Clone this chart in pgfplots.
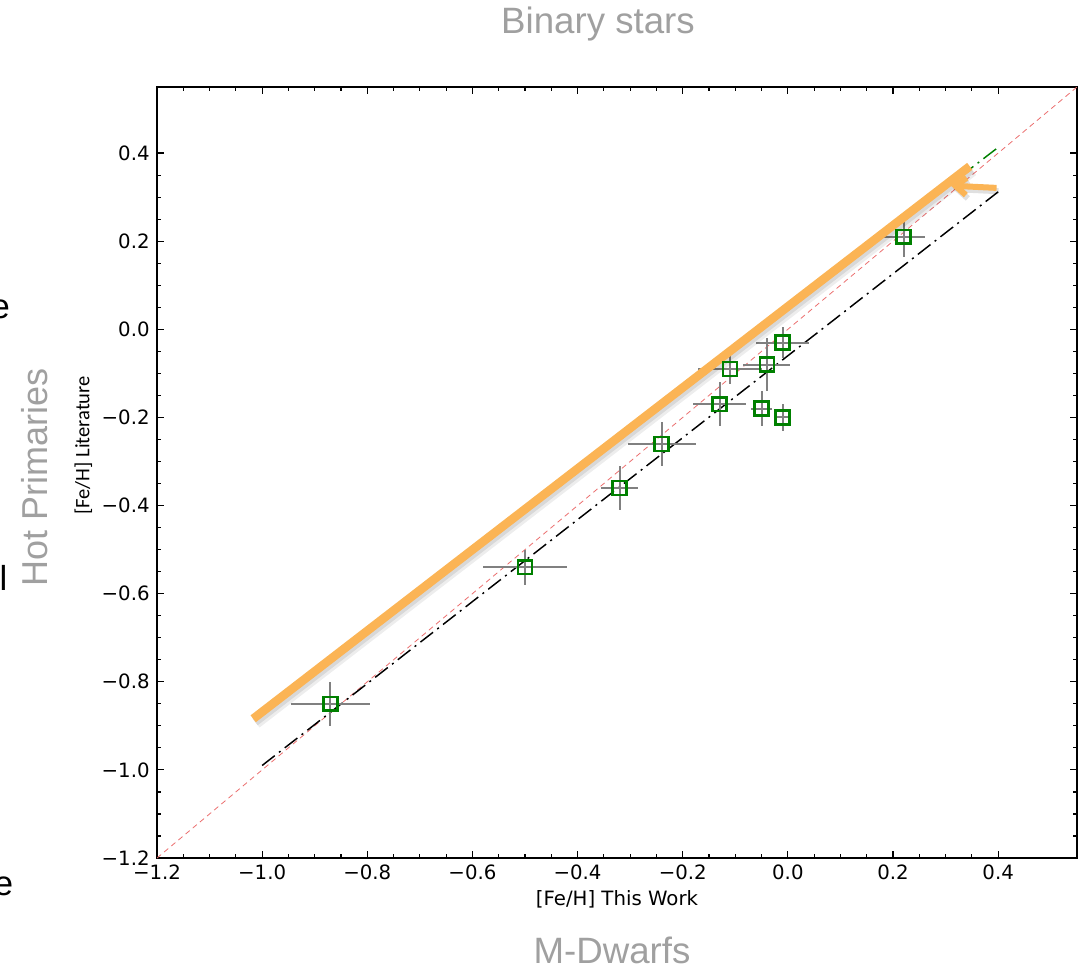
\documentclass[border=0pt]{standalone}
\usepackage{pgfplots}
\pgfplotsset{compat=1.18}
\usepackage{pgfplotstable}
\usepackage{fontspec}
\setmainfont{DejaVu Sans}
\newfontfamily\lib{Liberation Sans}
\newfontfamily\carl{Carlito}
\usetikzlibrary{arrows.meta}
\definecolor{ptgreen}{RGB}{0,128,0}
\definecolor{orng}{RGB}{251,180,85}
\definecolor{titlegray}{RGB}{160,160,160}
\definecolor{dred}{RGB}{235,110,110}
\definecolor{ebgray}{RGB}{128,128,128}

\pgfplotstableread{
x y ex ey
-0.87 -0.85 0.075 0.05
-0.50 -0.54 0.08 0.04
-0.32 -0.36 0.035 0.05
-0.24 -0.26 0.065 0.05
-0.13 -0.17 0.05 0.05
-0.11 -0.09 0.06 0.035
-0.04 -0.08 0.045 0.06
-0.01 -0.03 0.05 0.035
-0.05 -0.18 0.02 0.04
-0.01 -0.20 0.01 0.03
0.22 0.21 0.04 0.045
}\stars

\begin{document}
\begin{tikzpicture}
\path[use as bounding box] (0,0) rectangle (813pt,-726.75pt);
\begin{axis}[
  at={(117.75pt,-643.5pt)}, anchor=south west,
  scale only axis, width=690pt, height=578.25pt,
  xmin=-1.2, xmax=0.55, ymin=-1.2, ymax=0.55,
  xtick={-1.2,-1.0,-0.8,-0.6,-0.4,-0.2,0,0.2,0.4},
  xticklabels={−1.2,−1.0,−0.8,−0.6,−0.4,−0.2,0.0,0.2,0.4},
  ytick={-1.2,-1.0,-0.8,-0.6,-0.4,-0.2,0,0.2,0.4},
  yticklabels={−1.2,−1.0,−0.8,−0.6,−0.4,−0.2,0.0,0.2,0.4},
  minor tick num=3,
  tick align=inside, tick pos=both,
  major tick length=5.5pt, minor tick length=3pt,
  every tick/.style={black, line width=0.9pt},
  axis line style={line width=1.1pt},
  tick label style={font=\fontsize{14.8}{17}\selectfont},
  yticklabel style={xshift=-2pt},
  xticklabel style={yshift=-1.5pt},
  xlabel={[Fe/H] This Work},
  xlabel style={font=\fontsize{14.8}{17}\selectfont, at={(axis description cs:0.5,-0.054)}, anchor=center},
  ylabel={\carl [Fe/H] Literature},
  ylabel style={font=\fontsize{15.4}{18}\selectfont, at={(axis description cs:-0.08,0.535)}, anchor=center, rotate=0},
  clip=true,
]
\addplot[dred, line width=0.6pt, dash pattern=on 4pt off 3pt] coordinates {(-1.2,-1.2) (0.55,0.55)};
\addplot[black, line width=1.1pt, dash pattern=on 12pt off 4pt on 1.5pt off 4pt] coordinates {(-1.0,-0.99) (0.4,0.312)};
\addplot[ptgreen, line width=1.1pt, dash pattern=on 12pt off 4pt on 1.5pt off 4pt] coordinates {(-1.01,-0.884) (0.4,0.413)};
\addplot[only marks, mark=square, mark size=5.2pt,
  mark options={ptgreen, line width=1.9pt, fill=none},
  error bars/.cd, x dir=both, x explicit, y dir=both, y explicit,
  error mark=none, error bar style={ebgray, line width=1.5pt}]
  table[x=x, y=y, x error=ex, y error=ey] {\stars};
% annotation: orange highlight line with soft shadow
\addplot[black, opacity=0.07, line width=9pt, xshift=2pt, yshift=-3pt] coordinates {(-1.017,-0.884) (0.346,0.370)};
\addplot[black, opacity=0.09, line width=6pt, xshift=1.5pt, yshift=-2.5pt] coordinates {(-1.017,-0.884) (0.346,0.370)};
\addplot[orng, line width=6.5pt] coordinates {(-1.017,-0.884) (0.346,0.370)};
\draw[black, opacity=0.12, line width=4.5pt, -{Straight Barb[length=8pt,width=13pt]}, xshift=1.5pt, yshift=-2.5pt] (axis cs:0.397,0.321) -- (axis cs:0.31,0.326);
\draw[orng, line width=4.5pt, -{Straight Barb[length=8pt,width=13pt]}] (axis cs:0.397,0.321) -- (axis cs:0.31,0.326);
\end{axis}
% slide texts
\node[anchor=base, inner sep=0pt, text=titlegray, font=\lib\fontsize{27.5}{30}\selectfont] at (448.5pt,-25.5pt) {Binary stars};
\node[anchor=base, inner sep=0pt, text=titlegray, font=\lib\fontsize{27.5}{30}\selectfont] at (459pt,-722.5pt) {M-Dwarfs};
\node[anchor=base, inner sep=0pt, rotate=90, text=titlegray, font=\lib\fontsize{27}{30}\selectfont] at (35.25pt,-358pt) {Hot Primaries};
\node[anchor=base east, inner sep=0pt, font=\lib\fontsize{26}{30}\selectfont] at (7.6pt,-239pt) {e};
\node[anchor=base east, inner sep=0pt, font=\lib\fontsize{26}{30}\selectfont] at (5.7pt,-442.5pt) {l};
\node[anchor=base east, inner sep=0pt, font=\lib\fontsize{26}{30}\selectfont] at (10.1pt,-671.25pt) {e};
\end{tikzpicture}
\end{document}
